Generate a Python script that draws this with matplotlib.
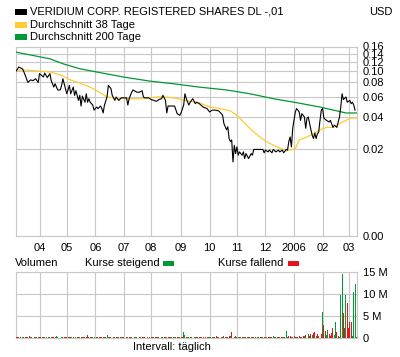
import numpy as np
import pandas as pd
import matplotlib
matplotlib.use('Agg')
import matplotlib.pyplot as plt
from matplotlib.patches import Rectangle

plt.rcParams['font.family'] = ['Liberation Sans', 'DejaVu Sans']

# ---------------- data ----------------
start_date = '2005-03-08'
end_date = '2006-03-09'
month_labels = ['04', '05', '06', '07', '08', '09', '10', '11', '12', '2006', '02', '03']
price_ticks = [0.00, 0.02, 0.04, 0.06, 0.08, 0.10, 0.12, 0.14, 0.16]
volume_ticks = [0, 5, 10, 15]
volume_tick_labels = ['0', '5 M', '10 M', '15 M']

# trading-day number (since start_date) and close price in USD
price_day = [0, 2, 5, 6, 8, 9, 11, 13, 15, 17, 18, 21, 22, 24, 26, 27, 29, 30, 32, 34,
             35, 36, 38, 39, 41, 42, 44, 45, 46, 48, 49, 50, 51, 53, 54, 55, 56, 57, 59, 60,
             62, 63, 65, 66, 67, 68, 70, 71, 73, 74, 76, 77, 79, 81, 83, 85, 86, 87, 89, 90,
             93, 95, 97, 98, 99, 102, 104, 106, 108, 110, 112, 113, 115, 116, 117, 120, 122, 124, 126, 127,
             129, 130, 131, 133, 134, 136, 138, 139, 141, 144, 147, 149, 151, 153, 156, 158, 159, 160, 162, 163,
             164, 165, 166, 167, 168, 169, 170, 171, 172, 174, 175, 176, 177, 179, 181, 182, 183, 185, 188, 190,
             191, 192, 194, 195, 197, 198, 200, 202, 203, 205, 206, 208, 209, 210, 211, 212, 213, 214, 215, 216,
             218, 219, 220, 222, 223, 224, 225, 227, 228, 229, 230, 231, 232, 233, 234, 235, 236, 237, 239, 241,
             242, 244, 245, 247, 248, 249, 250, 251, 252, 254, 255, 257, 258, 259, 260, 261]
price_val = [0.100, 0.108, 0.104, 0.098, 0.086, 0.080, 0.084, 0.083, 0.086, 0.080, 0.095, 0.089, 0.096, 0.088, 0.095, 0.083, 0.073, 0.078, 0.069, 0.069,
             0.0755, 0.086, 0.071, 0.064, 0.0755, 0.064, 0.073, 0.062, 0.068, 0.056, 0.062, 0.050, 0.061, 0.054, 0.064, 0.054, 0.058, 0.054, 0.051, 0.046,
             0.049, 0.0475, 0.050, 0.0475, 0.0434, 0.051, 0.060, 0.0755, 0.071, 0.062, 0.056, 0.060, 0.056, 0.059, 0.059, 0.059, 0.051, 0.058, 0.066, 0.069,
             0.066, 0.066, 0.068, 0.060, 0.059, 0.059, 0.057, 0.056, 0.055, 0.057, 0.058, 0.062, 0.056, 0.0434, 0.050, 0.050, 0.050, 0.0428, 0.0414, 0.0434,
             0.051, 0.064, 0.058, 0.051, 0.054, 0.058, 0.0525, 0.054, 0.0525, 0.049, 0.0475, 0.0443, 0.046, 0.046, 0.0453, 0.0428, 0.0414, 0.0348, 0.0305, 0.0325,
             0.0252, 0.0236, 0.0244, 0.0146, 0.0216, 0.0179, 0.0209, 0.0172, 0.0186, 0.0172, 0.0186, 0.0159, 0.0179, 0.0159, 0.0179, 0.0172, 0.0197, 0.0197, 0.0197, 0.0197,
             0.0182, 0.0194, 0.0186, 0.0194, 0.0182, 0.0197, 0.0186, 0.0194, 0.0186, 0.0194, 0.0182, 0.0197, 0.0194, 0.0236, 0.0261, 0.0209, 0.0315, 0.0372, 0.0443, 0.0475,
             0.0443, 0.0372, 0.0428, 0.0399, 0.0315, 0.039, 0.0399, 0.0305, 0.0271, 0.0252, 0.0284, 0.0252, 0.028, 0.029, 0.0372, 0.046, 0.0475, 0.039, 0.0372, 0.036,
             0.0372, 0.0321, 0.0337, 0.0321, 0.036, 0.0399, 0.049, 0.064, 0.057, 0.060, 0.054, 0.056, 0.0525, 0.054, 0.051, 0.046]

ma38_day = [0, 3, 13, 26, 34, 42, 49, 57, 62, 66, 70, 75, 85, 95, 103, 108, 115, 121, 127, 134,
            141, 149, 157, 165, 170, 175, 180, 185, 190, 195, 201, 206, 211, 215, 218, 224, 229, 234, 239, 244,
            249, 254, 258, 262]
ma38_val = [0.101, 0.102, 0.101, 0.098, 0.093, 0.084, 0.079, 0.073, 0.068, 0.064, 0.060, 0.059, 0.058, 0.058, 0.059, 0.060, 0.060, 0.059, 0.057, 0.055,
            0.0535, 0.049, 0.0475, 0.0453, 0.0414, 0.036, 0.0315, 0.0277, 0.0248, 0.0227, 0.0209, 0.0197, 0.0194, 0.0201, 0.0244, 0.0261, 0.028, 0.0305, 0.0321, 0.0321,
            0.0348, 0.0372, 0.039, 0.039]

ma200_day = [0, 13, 26, 36, 49, 65, 83, 103, 121, 141, 162, 180, 198, 216, 234, 247, 254, 262]
ma200_val = [0.1436, 0.1348, 0.1265, 0.115, 0.1045, 0.0967, 0.0888, 0.0821, 0.078, 0.073, 0.069, 0.064, 0.058, 0.0535, 0.049, 0.0453, 0.0434, 0.0434]

# daily volume in millions of shares, one value per trading day
volume_m = [0.3, 0.4, 0.2, 0.3, 0, 0.3, 0.4, 0.3, 0.2, 0.3, 0.5, 0.3, 0.3, 0, 0.2, 0.4, 0.3, 0.3, 0.2, 0.4,
            0.3, 0.2, 0.4, 0.3, 0, 0.3, 0.3, 0.4, 0.2, 0.3, 0.3, 0.5, 0.3, 0.2, 0, 0.3, 0.4, 0.3, 0.3, 0.2,
            0.3, 0.4, 0.2, 0.3, 0.3, 0, 0.4, 0.3, 0.2, 0.3, 0.3, 0.4, 0.3, 0.3, 0.2, 0.8, 0.3, 0.2, 0.3, 0.4,
            0.3, 0, 0.3, 0.2, 0.4, 0.3, 0.3, 0.2, 0.3, 0.4, 0.8, 0.3, 0.2, 0.3, 0, 0.3, 0.4, 0.3, 0.2, 0.3,
            0.3, 0.2, 0.4, 0.3, 0, 0.3, 0.3, 0.2, 0.4, 0.3, 0.3, 0.2, 0.3, 0.3, 0, 0.2, 0.3, 0.4, 0.3, 0.2,
            0.3, 0.3, 0, 0.2, 0.3, 0.3, 0.4, 0.2, 0.3, 0.3, 0.2, 0, 0.3, 0.4, 0.3, 0.2, 0.3, 0.3, 0.2, 0.3,
            0.3, 0.2, 0.4, 0.3, 0.3, 0.2, 0.3, 0.4, 0.3, 1.5, 0.7, 0.3, 0.2, 0.3, 0.4, 0.3, 0, 0.3, 0.2, 0.3,
            0.3, 0.4, 0.3, 0.2, 0.3, 0, 0.3, 0.3, 0.2, 0.4, 0.3, 0.3, 0.2, 0.3, 0.5, 0.3, 0.2, 0.3, 0.4, 0.3,
            0.5, 0.3, 0.4, 0.3, 0.5, 0.6, 1.5, 0.4, 0.3, 0.5, 0.3, 0.4, 0.2, 0.3, 0.3, 0.4, 0.2, 0.3, 0.3, 0.2,
            0.3, 0.2, 0.3, 0.3, 0.2, 0, 0.3, 0.2, 0.3, 0.3, 0.2, 0.3, 0.2, 0.3, 0.3, 0.2, 0.3, 0.4, 0.6, 0.3,
            0.3, 0.2, 0.3, 0.3, 0.2, 0.3, 0.3, 0.4, 1.7, 0.4, 0.6, 0.5, 0.3, 0.4, 0.5, 0.3, 0.4, 0.3, 0.5, 0.4,
            0.4, 0.6, 0.5, 0.7, 0.5, 0.9, 0.6, 1.0, 0.8, 1.2, 1.4, 0.6, 1.0, 0.5, 1.6, 1.0, 6.0, 3.0, 1.6, 0.8,
            1.9, 0.9, 0.6, 1.2, 2.4, 0.8, 3.8, 1.5, 0.5, 0.4, 9.8, 14.6, 5.7, 2.4, 9.9, 7.9, 2.4, 3.8, 3.8, 0.6,
            10.5, 12.2, 0.3]
# u = Kurse steigend, d = Kurse fallend
direction = ("ddudduudduddudduuddu" "uddudduuddduudduddud" "dduudduddudduuddddud"
             "udduddudduuuddudduud" "duudduddudduudduddud" "udduddudduddudduuddu"
             "dduuddudduudduudduud" "dduddudduudduddudduu" "ddudduduudduudduudud"
             "duudduuddudduuddudud" "uddudduduuddudduuddu" "ddudduddudduddududdu"
             "udddduudduuudduddddu" "uud")

# ---------------- figure ----------------
W, H = 400, 357
fig = plt.figure(figsize=(W / 100, H / 100), dpi=100)
fig.patch.set_facecolor('white')

def fx(px):
    return px / W

def fy(py):
    return 1 - py / H

grid_c = '#c8c8c8'
black = '#000000'
yellow = '#ffcc33'
green = '#009933'
red = '#e8141c'
fs = 8

dates = pd.bdate_range(start_date, end_date)
month_idx = [i for i in range(1, len(dates)) if dates[i].month != dates[i - 1].month]

x_left, x_right = 15.5, 357
ax = fig.add_axes([fx(x_left), fy(236), fx(x_right - x_left), (236 - 46.5) / H])
ax.set_yscale('function', functions=(lambda v: np.log(np.maximum(v, -0.0049) + 0.005),
                                      lambda u: np.exp(u) - 0.005))
ax.set_ylim(0, 0.16)
ax.set_xlim(-0.5, len(dates) - 0.5)

ax.plot(ma200_day, ma200_val, color=green, lw=0.9, zorder=3)
ax.plot(ma38_day, ma38_val, color=yellow, lw=0.9, zorder=3)
ax.plot(price_day, price_val, color=black, lw=0.8, zorder=4)

ax.set_yticks(price_ticks)
ax.set_yticklabels([f'{t:.2f}' for t in price_ticks])
ax.yaxis.tick_right()
ax.set_xticks(month_idx)
ax.set_xticklabels(month_labels)
ax.tick_params(length=0, labelsize=fs, colors=black)
ax.tick_params(axis='y', pad=4)
ax.tick_params(axis='x', pad=5)
ax.grid(True, color=grid_c, lw=0.8)
ax.set_axisbelow(True)
for s in ax.spines.values():
    s.set_color(grid_c)
    s.set_linewidth(0.8)

# volume
axv = fig.add_axes([fx(x_left), fy(338.3), fx(x_right - x_left), (338.3 - 272) / H])
vcols = [green if c == 'u' else red for c in direction]
axv.bar(range(len(volume_m)), volume_m, width=0.75, color=vcols, zorder=3, linewidth=0)
axv.set_xlim(-0.5, len(dates) - 0.5)
axv.set_ylim(0, 15)
axv.set_yticks(volume_ticks)
axv.set_yticklabels(volume_tick_labels)
axv.yaxis.tick_right()
axv.set_xticks(month_idx)
axv.set_xticklabels([])
axv.tick_params(length=0, labelsize=fs, colors=black)
axv.tick_params(axis='y', pad=4)
axv.grid(True, color=grid_c, lw=0.8)
axv.set_axisbelow(True)
for s in axv.spines.values():
    s.set_color(grid_c)
    s.set_linewidth(0.8)

# legend / header texts
legend_rows = [(12, black, 'VERIDIUM CORP. REGISTERED SHARES DL -,01'),
               (24.7, yellow, 'Durchschnitt 38 Tage'),
               (37, green, 'Durchschnitt 200 Tage')]
for yc, col, label in legend_rows:
    fig.patches.append(Rectangle((fx(15), fy(yc + 3)), 12 / W, 6 / H,
                                 transform=fig.transFigure, color=col, lw=0))
    fig.text(fx(30), fy(yc), label, fontsize=fs, va='center', ha='left')
fig.text(fx(393), fy(12), 'USD', fontsize=fs, va='center', ha='right')

fig.text(fx(15), fy(262.5), 'Volumen', fontsize=fs, va='center', ha='left')
fig.text(fx(85), fy(262.5), 'Kurse steigend', fontsize=fs, va='center', ha='left')
fig.patches.append(Rectangle((fx(162.5), fy(265.5)), 11 / W, 5 / H,
                             transform=fig.transFigure, color=green, lw=0))
fig.text(fx(218.5), fy(262.5), 'Kurse fallend', fontsize=fs, va='center', ha='left')
fig.patches.append(Rectangle((fx(287.5), fy(265.5)), 11 / W, 5 / H,
                             transform=fig.transFigure, color=red, lw=0))
fig.text(fx(133), fy(347.5), 'Intervall: täglich', fontsize=fs, va='center', ha='left')

fig.savefig('out.png', dpi=100, facecolor='white')
